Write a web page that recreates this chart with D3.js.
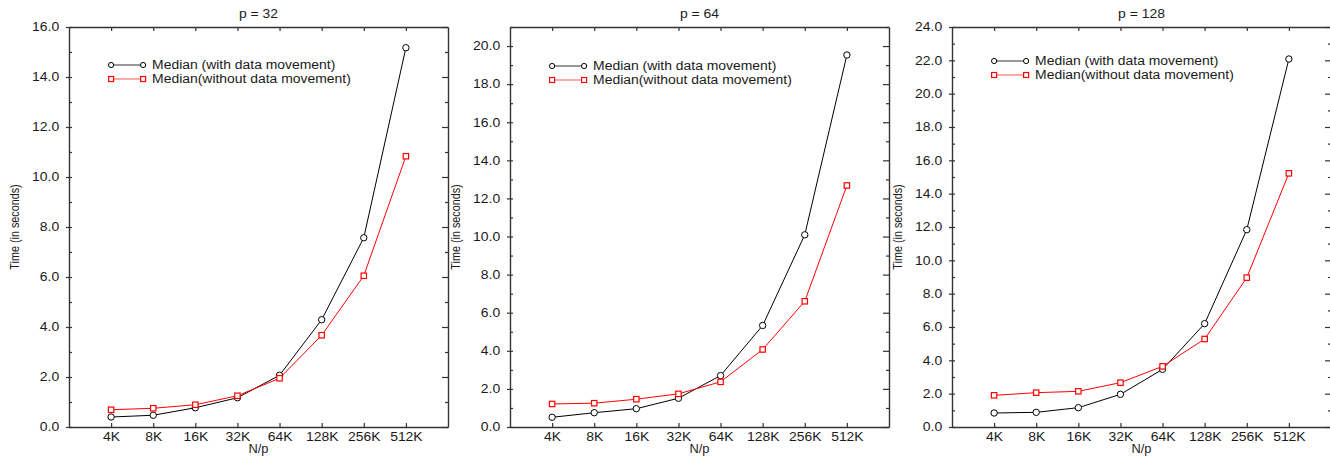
<!DOCTYPE html>
<html>
<head>
<meta charset="utf-8">
<script src="https://cdn.jsdelivr.net/npm/d3@7"></script>
<style>
  body { margin: 0; background: #fff; }
  svg { display: block; font-family: "Liberation Sans", Arial, sans-serif; }
</style>
</head>
<body>
<svg id="chart" width="1330" height="457"></svg>
<script>
// Problem size per processor (x axis categories)
const categories = ["4K", "8K", "16K", "32K", "64K", "128K", "256K", "512K"];

// Number of processors, one panel each
const procCounts = [32, 64, 128];

// Median run time in seconds, with data movement
const withMove32  = [0.40, 0.47, 0.77, 1.17, 2.07, 4.29, 7.57, 15.17];
const withMove64  = [0.51, 0.75, 0.96, 1.51, 2.70, 5.33, 10.09, 19.53];
const withMove128 = [0.84, 0.88, 1.16, 1.96, 3.46, 6.20, 11.84, 22.08];

// Median run time in seconds, without data movement
const noMove32  = [0.69, 0.75, 0.89, 1.25, 1.95, 3.67, 6.05, 10.83];
const noMove64  = [1.21, 1.25, 1.46, 1.74, 2.37, 4.07, 6.60, 12.68];
const noMove128 = [1.90, 2.06, 2.14, 2.66, 3.64, 5.28, 8.96, 15.22];

// Upper end of each panel's time axis
const yMaxes = [16, 21, 24];

const seriesNames = ["Median (with data movement)", "Median(without data movement)"];

const withMove = [withMove32, withMove64, withMove128];
const noMove = [noMove32, noMove64, noMove128];

// Layout
const panelLefts = [69, 510, 952];
const panelW = 379;
const plotTop = 27, plotBottom = 427;
const legendOffsets = [38, 39, 34];
const SX = 1.16;              // horizontal stretch of the lettering
const frameColor = "#333";
const textColor = "#1a1a1a";

const svg = d3.select("#chart");

procCounts.forEach((p, k) => {
  const left = panelLefts[k];
  const right = left + panelW;
  const x = d3.scaleLinear().domain([0, categories.length + 1]).range([left, right]);
  const y = d3.scaleLinear().domain([0, yMaxes[k]]).range([plotBottom, plotTop]);
  const g = svg.append("g");

  const majorY = d3.range(0, yMaxes[k] + 0.001, 2);
  const minorY = d3.range(1, yMaxes[k] + 0.001, 2);
  const catIdx = d3.range(1, categories.length + 1);

  const styleAxis = sel => {
    sel.attr("font-family", null);
    sel.select(".domain").attr("stroke", frameColor).attr("stroke-width", 1.4);
    sel.selectAll(".tick line").attr("stroke", frameColor).attr("stroke-width", 1.2);
    sel.selectAll(".tick text")
      .attr("fill", textColor)
      .style("font-size", "12px")
      .attr("transform", `scale(${SX},1)`);
  };

  // Left axis with labels; major ticks straddle the axis line
  const leftAx = g.append("g")
    .attr("transform", `translate(${left},0)`)
    .call(d3.axisLeft(y).tickValues(majorY).tickFormat(d3.format(".1f"))
      .tickSize(3).tickSizeOuter(0).tickPadding(5.5))
    .call(styleAxis);
  leftAx.selectAll(".tick line").attr("x1", 3);

  g.append("g")
    .attr("transform", `translate(${left},0)`)
    .call(d3.axisLeft(y).tickValues(minorY).tickFormat("").tickSize(-3).tickSizeOuter(0))
    .call(styleAxis)
    .select(".domain").remove();

  // Right frame edge with inward ticks
  g.append("g")
    .attr("transform", `translate(${right},0)`)
    .call(d3.axisRight(y).tickValues(majorY).tickFormat("").tickSize(-6).tickSizeOuter(0))
    .call(styleAxis);
  g.append("g")
    .attr("transform", `translate(${right},0)`)
    .call(d3.axisRight(y).tickValues(minorY).tickFormat("").tickSize(-3).tickSizeOuter(0))
    .call(styleAxis)
    .select(".domain").remove();

  // Bottom axis with category labels
  const botAx = g.append("g")
    .attr("transform", `translate(0,${plotBottom})`)
    .call(d3.axisBottom(x).tickValues(catIdx).tickFormat(i => categories[i - 1])
      .tickSize(-4).tickSizeOuter(0).tickPadding(5.5))
    .call(styleAxis);
  botAx.selectAll(".tick line").attr("y1", 1);

  // Top frame edge
  g.append("g")
    .attr("transform", `translate(0,${plotTop})`)
    .call(d3.axisTop(x).tickValues(catIdx).tickFormat("").tickSize(-4).tickSizeOuter(0))
    .call(styleAxis);

  // Panel title
  g.append("text")
    .attr("transform", `translate(${(left + right) / 2},18) scale(${SX},1)`)
    .attr("text-anchor", "middle")
    .attr("fill", textColor)
    .style("font-size", "12px")
    .text(`p = ${p}`);

  // Axis titles
  g.append("text")
    .attr("transform", `translate(${(left + right) / 2},453) scale(1.07,1)`)
    .attr("text-anchor", "middle")
    .attr("fill", textColor)
    .style("font-size", "12px")
    .text("N/p");

  g.append("text")
    .attr("transform", `translate(${left - 50},${(plotTop + plotBottom) / 2}) scale(${SX},1) rotate(-90)`)
    .attr("text-anchor", "middle")
    .attr("fill", textColor)
    .style("font-size", "10.8px")
    .text("Time (in seconds)");

  const line = d3.line().x((d, i) => x(i + 1)).y(d => y(d));

  // Series with data movement: black line, open circles
  g.append("path")
    .datum(withMove[k])
    .attr("d", line)
    .attr("fill", "none")
    .attr("stroke", "#000")
    .attr("stroke-width", 1);
  g.selectAll(".circ")
    .data(withMove[k])
    .join("circle")
    .attr("cx", (d, i) => x(i + 1))
    .attr("cy", d => y(d))
    .attr("r", 3.2)
    .attr("fill", "#fff")
    .attr("stroke", "#000")
    .attr("stroke-width", 1);

  // Series without data movement: red line, open squares
  const sq = 5.4;
  g.append("path")
    .datum(noMove[k])
    .attr("d", line)
    .attr("fill", "none")
    .attr("stroke", "#f00")
    .attr("stroke-width", 1);
  g.selectAll(".sq")
    .data(noMove[k])
    .join("rect")
    .attr("x", (d, i) => x(i + 1) - sq / 2)
    .attr("y", d => y(d) - sq / 2)
    .attr("width", sq)
    .attr("height", sq)
    .attr("fill", "#fff")
    .attr("stroke", "#f00")
    .attr("stroke-width", 1.2);

  // Legend
  const lx0 = x(1), lx1 = x(1) + 32;
  const ly = plotTop + legendOffsets[k];
  const leg = g.append("g");
  [0, 1].forEach(s => {
    const yy = ly + s * 14;
    const col = s === 0 ? "#000" : "#f00";
    leg.append("line")
      .attr("x1", lx0).attr("x2", lx1).attr("y1", yy).attr("y2", yy)
      .attr("stroke", s === 0 ? "#333" : "#f55").attr("stroke-width", 1.2);
    [lx0, lx1].forEach(cx => {
      if (s === 0) {
        leg.append("circle").attr("cx", cx).attr("cy", yy).attr("r", 2.6)
          .attr("fill", "#fff").attr("stroke", col).attr("stroke-width", 1);
      } else {
        leg.append("rect").attr("x", cx - 2.5).attr("y", yy - 2.5)
          .attr("width", 5).attr("height", 5)
          .attr("fill", "#fff").attr("stroke", col).attr("stroke-width", 1.2);
      }
    });
    leg.append("text")
      .attr("transform", `translate(${lx1 + 9},${yy}) scale(${SX},1)`)
      .attr("dy", "0.36em")
      .attr("fill", textColor)
      .style("font-size", "12px")
      .text(seriesNames[s]);
  });
});
</script>
</body>
</html>
